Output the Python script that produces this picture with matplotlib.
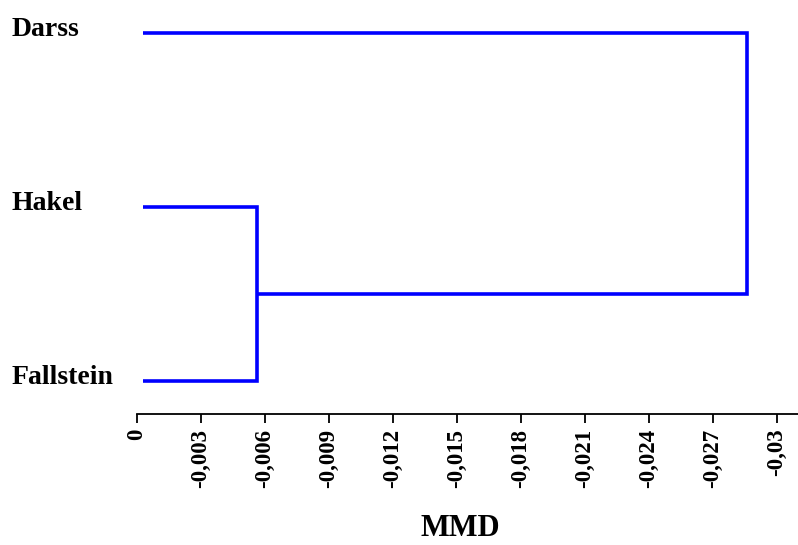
import matplotlib
matplotlib.use("Agg")
import matplotlib.pyplot as plt
import matplotlib.transforms as mtransforms

# ---- data ----
leaves = ["Darss", "Hakel", "Fallstein"]          # top to bottom
leaf_height = -0.0003                              # where leaf branches start
merge_heights = [-0.00565, -0.0286]                # Hakel+Fallstein, then +Darss
tick_values = [0, -0.003, -0.006, -0.009, -0.012, -0.015, -0.018,
               -0.021, -0.024, -0.027, -0.03]
tick_labels = ["0", "-0,003", "-0,006", "-0,009", "-0,012", "-0,015",
               "-0,018", "-0,021", "-0,024", "-0,027", "-0,03"]
xlabel = "MMD"

plt.rcParams["font.family"] = ["Liberation Serif", "DejaVu Serif"]

W, H = 798, 545
fig = plt.figure(figsize=(W / 100, H / 100), dpi=100)
ax = fig.add_axes([137 / W, (H - 414) / H, 1 - 137 / W, 414 / H])

ypos = {name: len(leaves) - 1 - i for i, name in enumerate(leaves)}
color = "#0000FF"
lw = 2.6

h1, h2 = merge_heights
y_h, y_f, y_d = ypos["Hakel"], ypos["Fallstein"], ypos["Darss"]
node1_y = (y_h + y_f) / 2
ax.plot([leaf_height, h1, h1, leaf_height], [y_h, y_h, y_f, y_f],
        color=color, lw=lw, solid_joinstyle="miter", solid_capstyle="butt")
ax.plot([leaf_height, h2, h2, h1], [y_d, y_d, node1_y, node1_y],
        color=color, lw=lw, solid_joinstyle="miter", solid_capstyle="butt")

ax.set_xlim(0, -0.0310)
ax.set_ylim(-0.19, 2.19)

for s in ["top", "right", "left"]:
    ax.spines[s].set_visible(False)
ax.spines["bottom"].set_linewidth(1.3)
ax.set_yticks([])
ax.set_xticks(tick_values)
ax.set_xticklabels(tick_labels, rotation=90, fontsize=16.5, fontweight="bold")
ax.tick_params(axis="x", direction="out", length=6.5, width=1.3, pad=4)

# leaf labels at the far left
trans = mtransforms.blended_transform_factory(fig.transFigure, ax.transData)
for name in leaves:
    ax.annotate(name, xy=(12 / W, ypos[name]), xycoords=trans,
                xytext=(0, -3), textcoords="offset pixels",
                ha="left", va="baseline", fontsize=20, fontweight="bold",
                annotation_clip=False)

fig.text(460 / W, 1.5 / H, xlabel, ha="center", va="bottom",
         fontsize=22, fontweight="bold")

fig.savefig("out.png", dpi=100)
